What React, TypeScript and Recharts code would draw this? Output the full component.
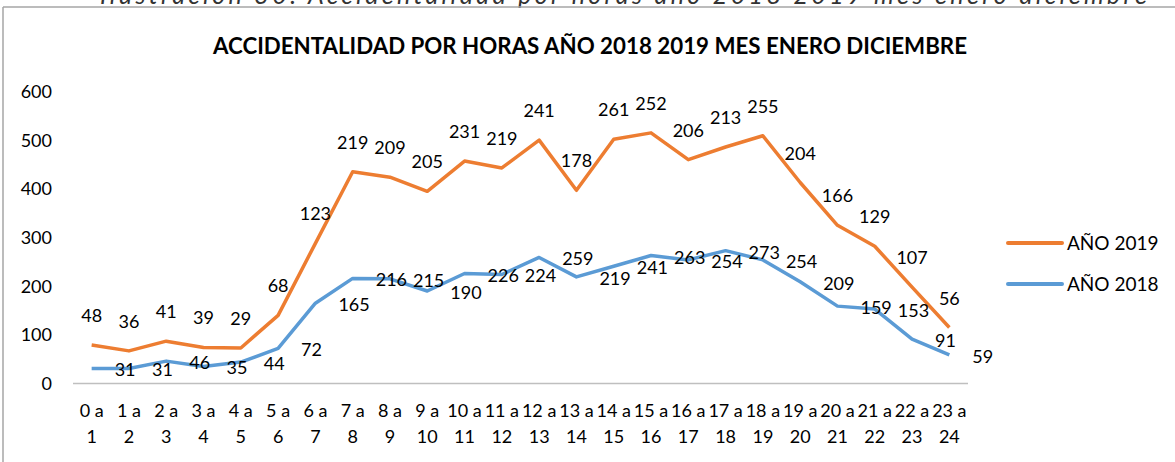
import { AreaChart, Area, XAxis, YAxis, Legend, LabelList } from 'recharts';

const HOURS = [
  '0 a 1', '1 a 2', '2 a 3', '3 a 4', '4 a 5', '5 a 6', '6 a 7', '7 a 8',
  '8 a 9', '9 a 10', '10 a 11', '11 a 12', '12 a 13', '13 a 14', '14 a 15', '15 a 16',
  '16 a 17', '17 a 18', '18 a 19', '19 a 20', '20 a 21', '21 a 22', '22 a 23', '23 a 24',
];
const ANO_2018 = [31, 31, 46, 35, 44, 72, 165, 216, 215, 190, 226, 224, 259, 219, 241, 263, 254, 273, 254, 209, 159, 153, 91, 59];
const ANO_2019 = [48, 36, 41, 39, 29, 68, 123, 219, 209, 205, 231, 219, 241, 178, 261, 252, 206, 213, 255, 204, 166, 129, 107, 56];
const Y_TICKS = [0, 100, 200, 300, 400, 500, 600];

const TITLE = 'ACCIDENTALIDAD POR HORAS AÑO 2018 2019 MES ENERO DICIEMBRE';
const CAPTION = 'Ilustración 30: Accidentalidad por horas año 2018 2019 mes enero diciembre';

// 2019 is stacked on top of 2018, like the Excel "stacked line" original
const data = HOURS.map((hora, i) => ({ hora, y2018: ANO_2018[i], y2019: ANO_2019[i] }));

const ORANGE = '#ED7D31';
const BLUE = '#5B9BD5';
const FONT = 'Lato, "Open Sans", sans-serif';

function HourTick(props: any) {
  const { x, y, payload } = props;
  const s = String(payload.value);
  const cut = s.lastIndexOf(' ');
  return (
    <text x={x} y={y} textAnchor="middle" fontFamily={FONT} fontSize={18} fill="#000">
      <tspan x={x} dy={25}>{s.slice(0, cut)}</tspan>
      <tspan x={x} dy={26.5}>{s.slice(cut + 1)}</tspan>
    </text>
  );
}

function labelAbove(props: any) {
  const x = props.x ?? props.viewBox?.x;
  const y = props.y ?? props.viewBox?.y;
  return (
    <text x={x} y={y - 30} textAnchor="middle" dominantBaseline="central" fontFamily={FONT} fontSize={18} fill="#000">
      {props.value}
    </text>
  );
}

function labelRight(props: any) {
  const x = props.x ?? props.viewBox?.x;
  const y = props.y ?? props.viewBox?.y;
  return (
    <text x={x + 23} y={y + 1} textAnchor="start" dominantBaseline="central" fontFamily={FONT} fontSize={18} fill="#000">
      {props.value}
    </text>
  );
}

function SeriesLegend({ payload }: any) {
  const items = [...(payload ?? [])].sort((a, b) => String(b.value).localeCompare(String(a.value)));
  return (
    <div>
      {items.map((it) => (
        <div key={it.value} style={{ display: 'flex', alignItems: 'center', height: 41 }}>
          <svg width={58} height={8}>
            <line x1={2} y1={4} x2={56} y2={4} stroke={it.color} strokeWidth={4} strokeLinecap="round" />
          </svg>
          <span style={{ marginLeft: 3, fontSize: 19, fontFamily: FONT, color: '#000' }}>{it.value}</span>
        </div>
      ))}
    </div>
  );
}

export default function App() {
  return (
    <div style={{ position: 'absolute', left: 0, top: 0, width: 1175, height: 462, overflow: 'hidden', background: '#fff' }}>
      <svg width={1175} height={462} style={{ position: 'absolute', left: 0, top: 0 }}>
        {/* figure caption above the frame, cut by the top edge as in the source */}
        <text x={100} y={4} fontFamily={FONT} fontStyle="italic" fontSize={25} fill="#333" textLength={1047} lengthAdjust="spacing">
          {CAPTION}
        </text>
        <line x1={3} y1={7} x2={1175} y2={7} stroke="#a6a6a6" strokeWidth={1.5} />
        <line x1={3} y1={7} x2={3} y2={462} stroke="#a6a6a6" strokeWidth={1.5} />
        <text x={590} y={45} textAnchor="middle" dominantBaseline="central" fontFamily={FONT} fontWeight="bold" fontSize={22.3} fill="#000">
          {TITLE}
        </text>
      </svg>
      <div style={{ position: 'absolute', left: 0, top: 0 }}>
        <AreaChart width={1175} height={462} data={data} margin={{ top: 91.5, right: 207, bottom: 18.5, left: 0 }}>
          <XAxis
            dataKey="hora"
            interval={0}
            tickLine={false}
            axisLine={{ stroke: '#bfbfbf', strokeWidth: 1.3 }}
            height={60}
            padding={{ left: 18.65, right: 18.65 }}
            tick={(p: any) => <HourTick {...p} />}
          />
          <YAxis
            width={73}
            domain={[0, 600]}
            ticks={Y_TICKS}
            axisLine={false}
            tickLine={false}
            tickMargin={15}
            tick={{ fill: '#000', fontSize: 18, fontFamily: FONT }}
          />
          <Legend
            layout="vertical"
            align="center"
            verticalAlign="middle"
            wrapperStyle={{ left: 1006, top: 222, width: 170 }}
            content={SeriesLegend}
          />
          <Area
            type="linear"
            dataKey="y2018"
            name="AÑO 2018"
            stackId="h"
            stroke={BLUE}
            strokeWidth={3.5}
            strokeLinejoin="round"
            fill="none"
            dot={false}
            activeDot={false}
            legendType="line"
            isAnimationActive={false}
          >
            <LabelList dataKey="y2018" content={labelRight} />
          </Area>
          <Area
            type="linear"
            dataKey="y2019"
            name="AÑO 2019"
            stackId="h"
            stroke={ORANGE}
            strokeWidth={3.5}
            strokeLinejoin="round"
            fill="none"
            dot={false}
            activeDot={false}
            legendType="line"
            isAnimationActive={false}
          >
            <LabelList dataKey="y2019" content={labelAbove} />
          </Area>
        </AreaChart>
      </div>
    </div>
  );
}
